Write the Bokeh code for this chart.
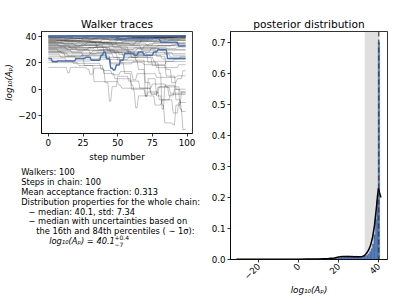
import math
from bokeh.plotting import figure
from bokeh.layouts import row, column
from bokeh.models import Range1d, FixedTicker, Label, BoxAnnotation, Span
from bokeh.embed import file_html
from bokeh.resources import INLINE

FONT = "DejaVu Sans"

# ---------------- data ----------------
steps = list(range(100))

# walker traces as (step, value) change points (value held until next point)
gray_traces = [
    [(0, 40.6), (40, 40.3), (75, 40.7)],
    [(0, 40.2), (22, 39.9), (58, 40.4), (88, 40.1)],
    [(0, 39.8), (15, 40.3), (47, 39.6), (80, 40.2)],
    [(0, 39.4), (30, 39.9), (65, 39.2), (91, 39.8)],
    [(0, 39.0), (12, 38.4), (36, 39.5), (70, 40.0)],
    [(0, 38.5), (25, 39.2), (52, 38.2), (77, 39.6)],
    [(0, 38.0), (9, 37.3), (33, 38.6), (61, 39.3), (94, 40.0)],
    [(0, 37.5), (20, 38.3), (44, 37.0), (68, 38.5), (86, 39.1)],
    [(0, 37.0), (14, 36.2), (39, 37.6), (57, 38.8), (83, 38.0)],
    [(0, 36.5), (27, 35.8), (50, 37.4), (73, 38.6)],
    [(0, 36.0), (6, 36.9), (31, 35.4), (55, 36.6), (79, 37.9), (96, 38.7)],
    [(0, 40.0), (45, 39.7), (66, 40.3)],
    [(0, 39.6), (18, 40.0), (60, 39.4), (85, 39.9)],
    [(0, 40.5), (33, 40.1), (70, 40.6)],
    [(0, 40.3), (27, 40.6), (61, 40.0), (90, 40.5)],
    [(0, 39.9), (42, 40.4), (78, 39.7)],
    [(0, 39.2), (19, 39.7), (54, 40.2), (83, 39.5)],
    [(0, 38.8), (29, 38.1), (57, 39.0), (92, 39.7)],
    [(0, 37.8), (16, 38.6), (48, 37.4), (76, 38.9)],
    [(0, 36.8), (24, 37.6), (53, 36.1), (81, 37.3)],
    [(0, 35.6), (12, 36.4), (39, 34.9), (67, 36.9)],
    [(0, 34.2), (21, 35.2), (44, 33.4), (73, 34.6)],
    [(0, 32.6), (26, 33.6), (47, 31.8), (79, 33.0)],
    [(0, 30.8), (15, 31.8), (36, 30.0), (62, 31.4), (86, 30.2)],
    [(0, 35.3), (11, 34.2), (28, 35.6), (46, 34.0), (63, 36.2), (87, 37.2)],
    [(0, 34.6), (19, 33.2), (37, 34.8), (59, 33.6), (76, 35.4)],
    [(0, 33.8), (8, 32.5), (24, 34.0), (49, 35.0), (71, 33.2), (92, 34.5)],
    [(0, 33.0), (16, 31.0), (34, 32.4), (53, 30.5), (69, 32.8), (89, 33.6)],
    [(0, 32.0), (13, 30.2), (29, 31.6), (43, 29.0), (64, 30.8), (81, 29.6)],
    [(0, 31.2), (21, 29.4), (41, 30.6), (57, 28.4), (74, 31.0), (93, 32.0)],
    [(0, 30.4), (7, 28.8), (26, 29.8), (48, 27.6), (67, 29.2), (84, 27.0)],
    [(0, 29.5), (17, 27.6), (32, 29.0), (51, 26.4), (70, 27.8), (90, 25.8)],
    [(0, 28.6), (10, 26.8), (35, 27.9), (54, 25.2), (72, 26.6), (88, 24.4)],
    [(0, 27.4), (14, 25.4), (30, 26.8), (47, 24.0), (65, 25.6), (82, 23.0), (95, 24.6)],
    [(0, 26.2), (9, 24.3), (24, 25.8), (42, 22.6), (58, 24.4), (76, 21.2), (91, 22.8)],
    [(0, 25.0), (20, 22.8), (37, 24.2), (52, 20.4), (69, 18.6), (85, 21.0)],
    [(0, 23.6), (13, 21.4), (31, 22.8), (45, 19.2), (61, 21.0), (78, 16.4), (94, 18.6)],
    [(0, 21.8), (18, 19.6), (38, 15.2), (41, 5.0), (44, -9.0), (46, 2.0), (50, 9.8),
     (58, 6.2), (66, 0.8), (75, 4.0), (85, 1.8), (95, -2.0)],
    [(0, 16.6), (12, 16.6), (14, 12.4), (16, 16.6), (28, 15.2), (30, 11.4), (33, 16.0),
     (40, 14.2), (46, 11.0), (52, 13.4), (61, 7.2), (64, 11.8), (78, 9.0), (93, 10.2)],
    [(0, 28.2), (12, 25.0), (26, 18.0), (33, 5.8), (51, 3.0), (53, 0.8), (68, 0.8),
     (74, -4.0), (79, 1.5), (88, -3.0)],
    [(0, 28.0), (25, 25.2), (45, 20.0), (55, 12.0), (60, 3.0), (62, -3.0), (63, -14.0),
     (65, -5.0), (72, -2.0), (80, -8.0), (88, -4.0)],
    [(0, 30.0), (30, 27.4), (50, 22.0), (65, 15.0), (70, -5.5), (72, 8.0), (78, -5.0),
     (82, -12.0), (84, -25.5), (90, -27.0), (92, -12.0), (96, -2.0)],
    [(0, 33.2), (40, 29.0), (60, 24.0), (75, 18.0), (85, 10.0), (92, 0.0), (95, -15.0),
     (97, -30.5)],
    [(0, 35.8), (35, 32.0), (58, 27.0), (72, 20.0), (80, 12.0), (82, -15.0), (84, 3.0),
     (92, -8.0), (96, -16.8)],
    [(0, 20.2), (22, 18.0), (40, 12.0), (48, 8.0), (60, 0.0), (70, -5.0), (77, -12.0),
     (82, -8.0), (90, -18.0), (94, -10.0)],
    [(0, 31.6), (45, 28.0), (63, 22.0), (70, 5.0), (74, -3.0), (80, 2.0), (87, -5.0),
     (91, 0.0)],
    [(0, 35.0), (50, 33.0), (67, 30.0), (78, 25.0), (85, 15.0), (89, 5.0), (93, 8.0),
     (97, 14.0)],
]

blue_traces = [
    [(0, 40.4)],
    [(0, 40.0), (49, 38.3), (81, 35.6), (94, 32.7)],
    [(0, 23.3), (3, 20.8), (7, 21.5), (20, 23.3), (27, 24.3), (31, 22.0), (38, 25.7),
     (40, 28.3), (42, 23.3), (45, 15.9), (47, 14.6), (49, 18.3), (52, 22.0), (55, 27.0),
     (62, 25.7), (65, 28.3), (69, 25.7), (76, 28.3), (79, 30.0), (86, 23.3)],
]

# posterior histogram (density), bins listed from the top bin downwards
hist_top_left = 39.85
hist_bin_width = 0.72
hist_heights = [
    0.70, 0.19, 0.13, 0.08, 0.05, 0.035, 0.025, 0.018, 0.014, 0.012,
    0.011, 0.010, 0.009, 0.010, 0.009, 0.010, 0.011, 0.010, 0.011, 0.010,
    0.011, 0.010, 0.011, 0.010, 0.009, 0.008, 0.007, 0.006, 0.005, 0.004,
    0.004, 0.004, 0.003, 0.003, 0.003, 0.002, 0.002, 0.002, 0.002, 0.002,
    0.0015, 0.0015, 0.001, 0.001, 0.001, 0.001, 0.001, 0.001, 0.001, 0.001,
    0.001, 0.001, 0.0008, 0.0008, 0.0008, 0.0008, 0.0008, 0.0008, 0.0006, 0.0006,
    0.0006, 0.0006, 0.0006, 0.0006, 0.0005, 0.0005, 0.0005, 0.0005, 0.0005, 0.0005,
    0.0004, 0.0004, 0.0004, 0.0004, 0.0004, 0.0004, 0.0004, 0.0004, 0.0004, 0.0004,
    0.0003, 0.0003, 0.0003, 0.0003, 0.0003, 0.0003, 0.0003, 0.0003, 0.0003, 0.0003,
    0.0003, 0.0003, 0.0003, 0.0003, 0.0003, 0.0003, 0.0003, 0.0003,
]

kde_x = [-31.0, -20.0, -10.0, 0.0, 5.0, 10.0, 15.0, 18.0, 20.0, 22.0, 25.0, 28.0,
         30.0, 32.0, 33.0, 34.0, 35.0, 36.0, 37.0, 38.0, 38.5, 39.0, 39.5, 40.0,
         40.5, 41.2]
kde_y = [0.0005, 0.0006, 0.001, 0.0012, 0.0016, 0.002, 0.003, 0.005, 0.008, 0.010,
         0.010, 0.009, 0.009, 0.010, 0.013, 0.020, 0.030, 0.045, 0.070, 0.110,
         0.140, 0.170, 0.205, 0.230, 0.215, 0.200]

median = 40.1
p16 = 33.1
p84 = 40.5

info_lines = [
    "Walkers: 100",
    "Steps in chain: 100",
    "Mean acceptance fraction: 0.313",
    "Distribution properties for the whole chain:",
    "\u2212 median: 40.1, std: 7.34",
    "\u2212 median with uncertainties based on",
    "the 16th and 84th percentiles ( \u223c 1\u03c3):",
]
info_indent = [0, 0, 0, 0, 7.3, 7.3, 15]
eq_main = "log\u2081\u2080(A\u209a) = 40.1"
eq_sup = "+0.4"
eq_sub = "\u22127"

left_xticks = [0, 25, 50, 75, 100]
left_yticks = [-20, 0, 20, 40]
right_xticks = [-20, 0, 20, 40]
right_yticks = [0.0, 0.1, 0.2, 0.3, 0.4, 0.5, 0.6, 0.7]

BLUE = "#4c72b0"
TOTAL_H = 304
TOP_H = 164
TEXT_H = TOTAL_H - TOP_H


def expand(cp):
    vals = []
    j = 0
    for s in steps:
        while j + 1 < len(cp) and cp[j + 1][0] <= s:
            j += 1
        vals.append(cp[j][1])
    return vals


def style(p):
    p.background_fill_color = "white"
    p.border_fill_color = "white"
    p.outline_line_color = "black"
    p.outline_line_width = 0.8
    p.xgrid.visible = False
    p.ygrid.visible = False
    p.frame_align = False
    p.title.text_font = FONT
    p.title.text_font_size = "10.6px"
    p.title.text_font_style = "normal"
    p.title.align = "center"
    p.title.text_color = "black"
    p.title.standoff = 4
    for ax in p.axis:
        ax.axis_line_color = "black"
        ax.axis_line_width = 0.8
        ax.major_tick_line_color = "black"
        ax.major_tick_line_width = 0.8
        ax.major_tick_out = 3
        ax.major_tick_in = 0
        ax.minor_tick_line_color = None
        ax.major_label_text_font = FONT
        ax.major_label_text_font_size = "8.7px"
        ax.major_label_text_color = "black"
        ax.major_label_standoff = 2
        ax.axis_label_text_font = FONT
        ax.axis_label_text_font_size = "8.7px"
        ax.axis_label_text_color = "black"
        ax.axis_label_standoff = 3


# ---------------- left: walker traces ----------------
p1 = figure(width=205, height=TOP_H, output_backend="svg", toolbar_location=None,
            title="Walker traces",
            x_range=Range1d(-4.95, 103.95), y_range=Range1d(-33.5, 43.75),
            min_border_left=41, min_border_right=13, min_border_top=31,
            min_border_bottom=30)
style(p1)
for cp in gray_traces:
    p1.line(steps, expand(cp), line_color="black", line_alpha=0.27, line_width=0.9)
for cp in blue_traces:
    p1.line(steps, expand(cp), line_color=BLUE, line_width=1.5)
p1.xaxis.ticker = FixedTicker(ticks=left_xticks)
p1.yaxis.ticker = FixedTicker(ticks=left_yticks)
p1.yaxis.major_label_overrides = {-20: "\u221220"}
p1.xaxis.axis_label = "step number"
p1.xaxis.axis_label_text_font_style = "normal"
p1.yaxis.axis_label = "log\u2081\u2080(A\u209a)"
p1.yaxis.axis_label_text_font_style = "italic"
p1.yaxis.axis_label_standoff = 1

# ---------------- text block below the traces ----------------
pt = figure(width=205, height=TEXT_H, output_backend="svg", toolbar_location=None,
            x_range=Range1d(0, 1), y_range=Range1d(0, 1),
            x_axis_location=None, y_axis_location=None,
            min_border_left=0, min_border_right=0, min_border_top=0, min_border_bottom=0)
pt.outline_line_color = None
pt.xgrid.visible = False
pt.ygrid.visible = False
pt.frame_align = False
pt.background_fill_color = "white"
pt.border_fill_color = "white"

line_h = 9.85
x0 = 20.7
y0 = TEXT_H - (171.7 - TOP_H)
for i, (txt, ind) in enumerate(zip(info_lines, info_indent)):
    pt.add_layout(Label(x=x0 + ind, y=y0 - i * line_h, x_units="screen", y_units="screen",
                        text=txt, text_font=FONT, text_font_size="8.3px",
                        text_color="black", text_baseline="middle", text_align="left"))
yeq = y0 - len(info_lines) * line_h
eq_x = 48.7
eq_w = 64.5
pt.add_layout(Label(x=eq_x, y=yeq, x_units="screen", y_units="screen", text=eq_main,
                    text_font=FONT, text_font_size="8.3px", text_font_style="italic",
                    text_color="black", text_baseline="middle", text_align="left"))
pt.add_layout(Label(x=eq_x + eq_w + 0.8, y=yeq + 3.3, x_units="screen", y_units="screen",
                    text=eq_sup, text_font=FONT, text_font_size="6px",
                    text_color="black", text_baseline="middle", text_align="left"))
pt.add_layout(Label(x=eq_x + eq_w + 0.8, y=yeq - 3.0, x_units="screen", y_units="screen",
                    text=eq_sub, text_font=FONT, text_font_size="6px",
                    text_color="black", text_baseline="middle", text_align="left"))

# ---------------- right: posterior ----------------
p2 = figure(width=201, height=TOTAL_H, output_backend="svg", toolbar_location=None,
            title="posterior distribution",
            x_range=Range1d(-34.0, 44.5), y_range=Range1d(0.0, 0.735),
            min_border_left=25, min_border_right=19, min_border_top=31,
            min_border_bottom=45)
style(p2)
p2.add_layout(BoxAnnotation(left=p16, right=p84, fill_color="gray", fill_alpha=0.25,
                            line_color=None, level="underlay"))
lefts = [hist_top_left - k * hist_bin_width for k in range(len(hist_heights))]
p2.quad(left=lefts, right=[l + hist_bin_width for l in lefts], bottom=0, top=hist_heights,
        fill_color=BLUE, line_color=BLUE, line_width=0.4)
p2.line(kde_x, kde_y, line_color="black", line_width=1.5)
p2.add_layout(Span(location=median, dimension="height", line_color="#333333",
                   line_alpha=0.75, line_dash="5 3", line_width=1.5))
p2.xaxis.ticker = FixedTicker(ticks=right_xticks)
p2.yaxis.ticker = FixedTicker(ticks=right_yticks)
p2.xaxis.major_label_overrides = {-20: "\u221220"}
p2.yaxis.major_label_overrides = {v: "%.1f" % v for v in right_yticks}
p2.xaxis.major_label_orientation = math.pi / 4
p2.xaxis.axis_label = "log\u2081\u2080(A\u209a)"
p2.xaxis.axis_label_text_font_style = "italic"
p2.xaxis.axis_label_standoff = 0

layout = row(column(p1, pt), p2)
open("out.html", "w").write(file_html(layout, INLINE))
